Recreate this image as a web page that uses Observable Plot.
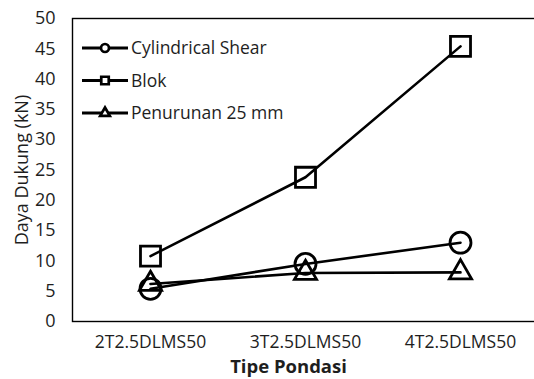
<!DOCTYPE html>
<html>
<head>
<meta charset="utf-8">
<script src="https://cdn.jsdelivr.net/npm/d3@7"></script>
<script src="https://cdn.jsdelivr.net/npm/@observablehq/plot@0.6"></script>
<style>
  html, body { margin: 0; padding: 0; background: #fff; }
  #chart { width: 534px; height: 379px; }
</style>
</head>
<body>
<div id="chart"></div>
<script>
// Foundation types on the x axis
const categories = ["2T2.5DLMS50", "3T2.5DLMS50", "4T2.5DLMS50"];
// Bearing capacity (kN) by method
const cylindricalShear = [5.4, 9.5, 13.0];
const blok = [10.8, 23.8, 45.4];
const penurunan25 = [6.2, 8.0, 8.1];
const seriesNames = ["Cylindrical Shear", "Blok", "Penurunan 25 mm"];
const yTicks = [0, 5, 10, 15, 20, 25, 30, 35, 40, 45, 50];

const FONT = "'Open Sans', sans-serif";

const seriesValues = [cylindricalShear, blok, penurunan25];
const rows = seriesNames.flatMap((name, s) =>
  categories.map((c, i) => ({series: name, category: c, value: seriesValues[s][i]}))
);
const bySeries = name => rows.filter(d => d.series === name);

const symbols = ["circle", "square", "triangle"];
const markerR = [10.5, 11.3, 8.2];

const chart = Plot.plot({
  width: 534,
  height: 379,
  marginLeft: 72,
  marginRight: -4,
  marginTop: 18,
  marginBottom: 58,
  style: {fontFamily: FONT, background: "#fff", overflow: "hidden"},
  x: {type: "point", domain: categories, padding: 0.5, axis: null},
  y: {domain: [0, 50], axis: null},
  marks: [
    Plot.frame({stroke: "#000", strokeWidth: 1.4}),
    Plot.line(rows, {x: "category", y: "value", z: "series", stroke: "#000", strokeWidth: 2.6}),
    ...seriesNames.map((name, s) =>
      Plot.dot(bySeries(name), {
        x: "category", y: "value", symbol: symbols[s], r: markerR[s],
        stroke: "#000", strokeWidth: 2.8, fill: "none"
      })
    ),
    Plot.text(yTicks, {
      y: d => d, text: d => String(d), frameAnchor: "left", textAnchor: "end",
      dx: -17, fontSize: 18, fill: "#1e1e1e"
    }),
    Plot.text(categories, {
      x: d => d, text: d => d, frameAnchor: "bottom", textAnchor: "middle",
      dy: 26, fontSize: 17.5, fill: "#1e1e1e"
    }),
    Plot.text(["Daya Dukung (kN)"], {
      frameAnchor: "left", textAnchor: "middle", dx: -50, rotate: -90, fontSize: 18, fill: "#1e1e1e"
    }),
    Plot.text(["Tipe Pondasi"], {
      frameAnchor: "bottom", textAnchor: "middle", dy: 51, dx: -17,
      fontSize: 18.5, fontWeight: "bold", fill: "#1e1e1e"
    })
  ]
});

// Legend inside the plot area, top-left
const svg = d3.select(chart);
const legend = svg.append("g")
  .attr("font-family", FONT).attr("font-size", 17.5).attr("text-anchor", "start");
const legendSymbolSize = [50, 56, 40];
const legendSymbol = [d3.symbolCircle, d3.symbolSquare, d3.symbolTriangle];
seriesNames.forEach((name, i) => {
  const g = legend.append("g").attr("transform", `translate(0,${48 + i * 32.5})`);
  g.append("line").attr("x1", 82).attr("x2", 128).attr("y1", 0).attr("y2", 0)
    .attr("stroke", "#000").attr("stroke-width", 2.8);
  g.append("path").attr("transform", "translate(105,0)")
    .attr("d", d3.symbol(legendSymbol[i], legendSymbolSize[i])())
    .attr("fill", "#fff").attr("stroke", "#000").attr("stroke-width", 2.7);
  g.append("text").attr("x", 131).attr("y", 0).attr("dy", "0.35em")
    .attr("fill", "#1e1e1e").text(name);
});

document.getElementById("chart").append(chart);
</script>
</body>
</html>
